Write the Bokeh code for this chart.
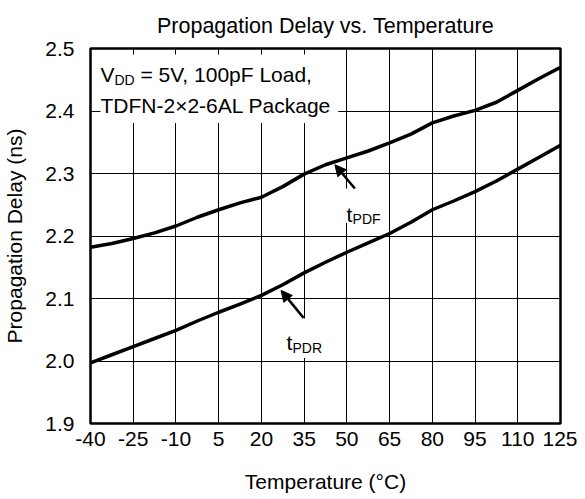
from bokeh.plotting import figure
from bokeh.models import (Range1d, FixedTicker, NumeralTickFormatter,
                          BoxAnnotation, Label, Arrow, NormalHead)
from bokeh.embed import file_html
from bokeh.resources import INLINE

# ---- data ----
temperature = [-40, -32.5, -25, -17.5, -10, -2.5, 5, 12.5, 20, 27.5, 35, 42.5,
               50, 57.5, 65, 72.5, 80, 87.5, 95, 102.5, 110, 117.5, 125]
t_pdf = [2.182, 2.188, 2.196, 2.205, 2.216, 2.230, 2.242, 2.253, 2.262, 2.279, 2.299, 2.314,
         2.325, 2.336, 2.349, 2.363, 2.381, 2.392, 2.401, 2.414, 2.433, 2.452, 2.470]
t_pdr = [1.997, 2.010, 2.023, 2.036, 2.049, 2.064, 2.078, 2.091, 2.105, 2.122, 2.141, 2.158,
         2.174, 2.189, 2.204, 2.222, 2.242, 2.256, 2.271, 2.288, 2.307, 2.326, 2.345]
x_ticks = [-40, -25, -10, 5, 20, 35, 50, 65, 80, 95, 110, 125]
y_ticks = [1.9, 2.0, 2.1, 2.2, 2.3, 2.4, 2.5]

FONT = "Liberation Sans"
FS = "21px"

p = figure(width=577, height=499, output_backend="svg", toolbar_location=None,
           x_range=Range1d(-40, 125), y_range=Range1d(1.9, 2.5),
           min_border_left=85, min_border_right=17, min_border_top=46, min_border_bottom=76)
p.outline_line_color = "black"
p.outline_line_width = 2.5

p.title.text = "Propagation Delay vs. Temperature"
p.title.align = "center"
p.title.text_font = FONT
p.title.text_font_size = "21.5px"
p.title.text_font_style = "normal"
p.title.text_color = "black"
p.title.standoff = 22

for ax in (p.xaxis[0], p.yaxis[0]):
    ax.axis_line_color = None
    ax.major_tick_out = 0
    ax.major_tick_in = 0
    ax.major_tick_line_color = None
    ax.minor_tick_line_color = None
    ax.major_label_text_font = FONT
    ax.major_label_text_font_size = FS
    ax.major_label_text_color = "black"
    ax.axis_label_text_font = FONT
    ax.axis_label_text_font_size = FS
    ax.axis_label_text_font_style = "normal"
    ax.axis_label_text_color = "black"

p.xaxis.ticker = FixedTicker(ticks=x_ticks)
p.xaxis.formatter = NumeralTickFormatter(format="0")
p.xaxis.axis_label = "Temperature (°C)"
p.xaxis.major_label_standoff = 8
p.xaxis.axis_label_standoff = 21

p.yaxis.ticker = FixedTicker(ticks=y_ticks)
p.yaxis.formatter = NumeralTickFormatter(format="0.0")
p.yaxis.axis_label = "Propagation Delay (ns)"
p.yaxis.major_label_standoff = 16
p.yaxis.axis_label_standoff = 16

p.xgrid.ticker = FixedTicker(ticks=x_ticks)
p.ygrid.ticker = FixedTicker(ticks=y_ticks)
for g in (p.xgrid[0], p.ygrid[0]):
    g.grid_line_color = "black"
    g.grid_line_width = 1

# white box behind condition text (leaves short tick stubs visible at top/left)
p.add_layout(BoxAnnotation(left=-36.5, right=47, bottom=2.381, top=2.4905,
                           fill_color="white", fill_alpha=1, line_color=None, level="glyph"))
# white boxes behind curve labels
p.add_layout(BoxAnnotation(left=47.5, right=63.9, bottom=2.221, top=2.276,
                           fill_color="white", fill_alpha=1, line_color=None, level="glyph"))
p.add_layout(BoxAnnotation(left=26.7, right=44.1, bottom=2.005, top=2.068,
                           fill_color="white", fill_alpha=1, line_color=None, level="glyph"))

p.line(temperature, t_pdf, line_color="black", line_width=3.5, line_join="round")
p.line(temperature, t_pdr, line_color="black", line_width=3.5, line_join="round")

def lab(x, y, text, size, xo=0, yo=0):
    p.add_layout(Label(x=x, y=y, x_offset=xo, y_offset=yo, text=text,
                       text_font=FONT, text_font_size=size, text_color="black",
                       text_baseline="alphabetic", text_align="left"))

# condition text
lab(-40, 2.5, "V", "21px", 10, -26)
lab(-40, 2.5, "DD", "14px", 24, -31)
lab(-40, 2.5, "= 5V, 100pF Load,", "21px", 50, -26)
lab(-40, 2.5, "TDFN-2×2-6AL Package", "21px", 10, -57)

# curve labels
lab(49.9, 2.235, "t", "21px")
lab(49.9, 2.235, "PDF", "14px", 6, -5)
lab(28.8, 2.029, "t", "21px")
lab(28.8, 2.029, "PDR", "14px", 6, -5)

p.add_layout(Arrow(x_start=52.8, y_start=2.276, x_end=45.8, y_end=2.314, line_width=2.5,
                   line_color="black",
                   end=NormalHead(size=11, fill_color="black", line_color="black")))
p.add_layout(Arrow(x_start=34.8, y_start=2.069, x_end=26.9, y_end=2.113, line_width=2.5,
                   line_color="black",
                   end=NormalHead(size=11, fill_color="black", line_color="black")))

open("out.html", "w").write(file_html(p, INLINE))
